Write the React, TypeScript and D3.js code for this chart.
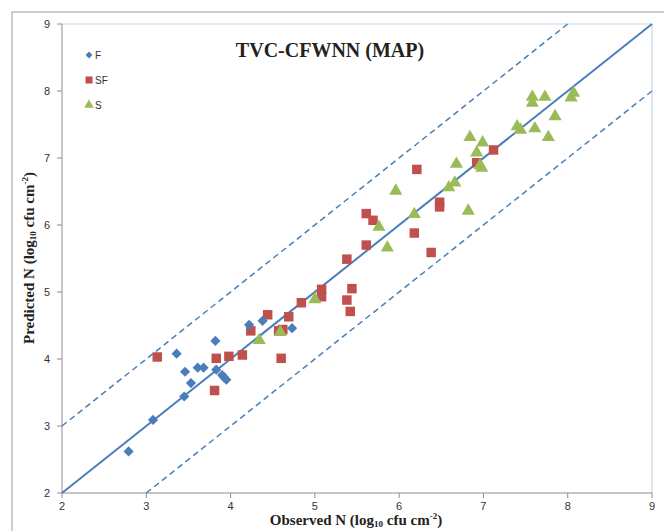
import React from "react";
import * as d3 from "d3";

const xTicks = [2, 3, 4, 5, 6, 7, 8, 9];
const yTicks = [2, 3, 4, 5, 6, 7, 8, 9];

const fObs = [2.79, 3.08, 3.36, 3.45, 3.46, 3.53, 3.61, 3.68, 3.82, 3.83, 3.90, 3.92, 3.95, 4.22, 4.38, 4.73];
const fPred = [2.62, 3.09, 4.08, 3.44, 3.81, 3.64, 3.87, 3.87, 4.27, 3.84, 3.76, 3.73, 3.69, 4.51, 4.57, 4.46];

const sfObs = [3.13, 3.81, 3.83, 3.98, 4.14, 4.24, 4.44, 4.57, 4.62, 4.60, 4.69, 4.84, 5.08, 5.08, 5.38, 5.44, 5.42, 5.38, 5.61, 5.61, 5.69, 6.18, 6.21, 6.38, 6.48, 6.48, 6.92, 7.12];
const sfPred = [4.03, 3.53, 4.01, 4.04, 4.06, 4.42, 4.66, 4.42, 4.44, 4.01, 4.63, 4.84, 5.04, 4.93, 4.88, 5.05, 4.71, 5.49, 5.70, 6.17, 6.07, 5.88, 6.83, 5.59, 6.34, 6.27, 6.93, 7.12];

const sObs = [4.34, 4.59, 5.0, 5.76, 5.86, 5.96, 6.18, 6.59, 6.66, 6.68, 6.82, 6.84, 6.92, 6.96, 6.98, 6.99, 7.40, 7.44, 7.61, 7.77, 7.85, 7.58, 7.58, 7.73, 8.07, 8.04];
const sPred = [4.28, 4.40, 4.89, 5.97, 5.66, 6.51, 6.16, 6.56, 6.63, 6.91, 6.21, 7.31, 7.08, 6.89, 6.85, 7.23, 7.47, 7.42, 7.44, 7.31, 7.62, 7.91, 7.82, 7.91, 7.97, 7.90];

const legendLabels = ["F", "SF", "S"];
const BLUE = "#4A7EBB";
const RED = "#C0504D";
const GREEN = "#9BBB59";

export default function App() {
  const left = 62, right = 652, top = 24, bottom = 493;
  const x = d3.scaleLinear().domain([2, 9]).range([left, right]);
  const y = d3.scaleLinear().domain([2, 9]).range([bottom, top]);
  const line = d3.line<[number, number]>().x(d => x(d[0])).y(d => y(d[1]));
  const diag: [number, number][] = [[2, 2], [9, 9]];
  const upper: [number, number][] = [[2, 3], [8, 9]];
  const lower: [number, number][] = [[3, 2], [9, 8]];
  const diamond = d3.symbol().type(d3.symbolSquare).size(52)() as string;
  const square = d3.symbol().type(d3.symbolSquare).size(90)() as string;
  const triangle = d3.symbol().type(d3.symbolTriangle).size(75)() as string;
  const serif = "'Liberation Serif', 'Times New Roman', serif";
  const sans = "'Liberation Sans Narrow', 'Liberation Sans', Arial, sans-serif";

  return (
    <svg width={664} height={531} style={{ position: "absolute", left: 0, top: 0 }}>
      <rect x={0} y={0} width={664} height={531} fill="#fff" />
      <rect x={12} y={12} width={670} height={540} fill="none" stroke="#bdbdbd" strokeWidth={1.5} />
      {/* plot border */}
      <line x1={left} y1={top} x2={right} y2={top} stroke="#c9d6e8" strokeWidth={1.2} />
      <line x1={right} y1={top} x2={right} y2={bottom} stroke="#c9d6e8" strokeWidth={1.2} />
      {/* axes */}
      <line x1={left} y1={top} x2={left} y2={bottom} stroke="#8c8c8c" strokeWidth={1} />
      <line x1={left} y1={bottom} x2={right} y2={bottom} stroke="#8c8c8c" strokeWidth={1} />
      {yTicks.map(t => (
        <g key={"y" + t}>
          <line x1={left - 5} x2={left} y1={y(t)} y2={y(t)} stroke="#8c8c8c" />
          <text x={left - 12} y={y(t) + 4} textAnchor="end" fontSize={11} fontFamily={sans} fill="#333">{t}</text>
        </g>
      ))}
      {xTicks.map(t => (
        <g key={"x" + t}>
          <line x1={x(t)} x2={x(t)} y1={bottom} y2={bottom + 5} stroke="#8c8c8c" />
          <text x={x(t)} y={bottom + 17} textAnchor="middle" fontSize={11} fontFamily={sans} fill="#333">{t}</text>
        </g>
      ))}
      {/* lines */}
      <path d={line(upper) as string} stroke={BLUE} strokeWidth={1.5} strokeDasharray="6,4" fill="none" />
      <path d={line(lower) as string} stroke={BLUE} strokeWidth={1.5} strokeDasharray="6,4" fill="none" />
      <path d={line(diag) as string} stroke={BLUE} strokeWidth={2} fill="none" />
      {/* points */}
      {sfObs.map((v, i) => (
        <path key={"sf" + i} d={square} transform={`translate(${x(v)},${y(sfPred[i])})`} fill={RED} />
      ))}
      {sObs.map((v, i) => (
        <path key={"s" + i} d={triangle} transform={`translate(${x(v)},${y(sPred[i])})`} fill={GREEN} />
      ))}
      {fObs.map((v, i) => (
        <path key={"f" + i} d={diamond} transform={`translate(${x(v)},${y(fPred[i])}) rotate(45)`} fill={BLUE} />
      ))}
      {/* legend */}
      {legendLabels.map((lab, i) => {
        const ly = 55 + i * 25;
        const sym = i === 0 ? d3.symbol().type(d3.symbolSquare).size(24)() : i === 1 ? d3.symbol().type(d3.symbolSquare).size(50)() : d3.symbol().type(d3.symbolTriangle).size(40)();
        const col = i === 0 ? BLUE : i === 1 ? RED : GREEN;
        return (
          <g key={lab}>
            <path d={sym as string} transform={`translate(89,${ly})${i === 0 ? " rotate(45)" : ""}`} fill={col} />
            <text x={95} y={ly + 4} fontSize={10} fontFamily={sans} fill="#333">{lab}</text>
          </g>
        );
      })}
      {/* title */}
      <text x={330} y={57} textAnchor="middle" fontSize={20} fontWeight="bold" fontFamily={serif} fill="#222">TVC-CFWNN (MAP)</text>
      {/* axis titles */}
      <text x={356} y={525} textAnchor="middle" fontSize={15} fontWeight="bold" fontFamily={serif} fill="#222">
        Observed N (log<tspan fontSize={9} dy={2}>10</tspan><tspan dy={-2}> cfu cm</tspan><tspan fontSize={9} dy={-6}>-2</tspan><tspan dy={6}>)</tspan>
      </text>
      <text transform="translate(34,258) rotate(-90)" textAnchor="middle" fontSize={15} fontWeight="bold" fontFamily={serif} fill="#222">
        Predicted N (log<tspan fontSize={9} dy={2}>10</tspan><tspan dy={-2}> cfu cm</tspan><tspan fontSize={9} dy={-6}>-2</tspan><tspan dy={6}>)</tspan>
      </text>
    </svg>
  );
}
